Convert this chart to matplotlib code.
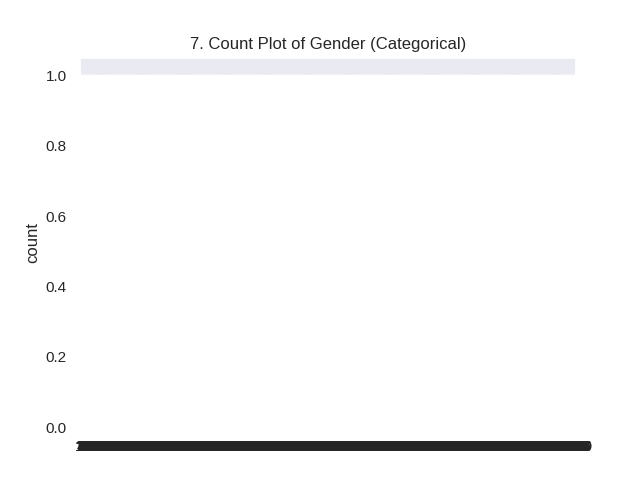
import matplotlib
matplotlib.use('agg')

import matplotlib.pyplot as plt
import seaborn as sns

# the plotted column held one unique id per row, so every bar is a count of 1
gender_values = list(range(1, 1501))

sns.set_theme(style='darkgrid')
plt.rcParams['font.family'] = ['Liberation Sans', 'DejaVu Sans']

fig, ax = plt.subplots(figsize=(6.4, 4.8), dpi=100)
sns.countplot(x=gender_values, ax=ax)
ax.set_title('7. Count Plot of Gender (Categorical)')

fig.savefig('out.png')
plt.close()
